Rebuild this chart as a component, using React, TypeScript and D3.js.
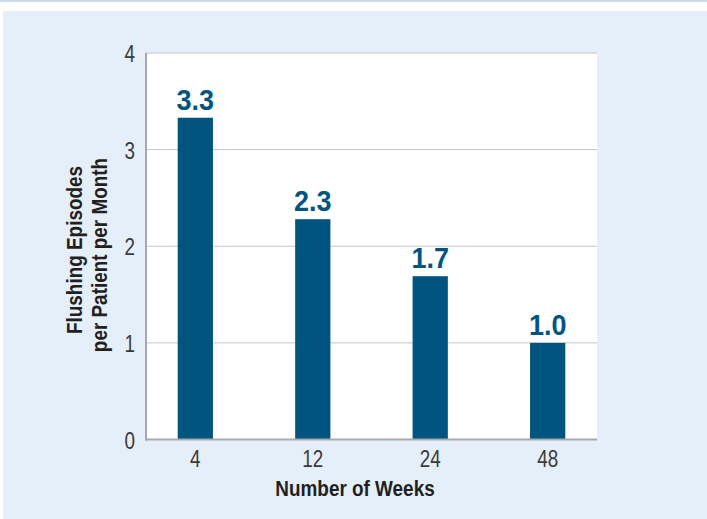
import React, { useEffect, useRef } from "react";
import * as d3 from "d3";

const weeks = ["4", "12", "24", "48"];
const episodes = [3.33, 2.28, 1.69, 1.0];
const valueLabels = ["3.3", "2.3", "1.7", "1.0"];
const yTicks = [0, 1, 2, 3, 4];

const FONT = "'Liberation Sans', Arial, sans-serif";

export default function App() {
  const ref = useRef<SVGSVGElement>(null);

  useEffect(() => {
    const svg = d3.select(ref.current);
    svg.selectAll("*").remove();

    const width = 707;
    const height = 519;
    const left = 146, right = 597, top = 53, bottom = 439.5;

    // page background
    svg.append("rect").attr("width", width).attr("height", height).attr("fill", "#ffffff");
    svg.append("rect").attr("x", 0).attr("y", 0).attr("width", width).attr("height", 2).attr("fill", "#c5dcf0");
    svg.append("rect").attr("x", 3).attr("y", 11).attr("width", width - 3).attr("height", height - 11).attr("fill", "#e5eff9");

    // plot area
    svg.append("rect")
      .attr("x", left).attr("y", top)
      .attr("width", right - left).attr("height", bottom - top)
      .attr("fill", "#ffffff");

    const x = d3.scaleBand()
      .domain(weeks)
      .range([left, right])
      .paddingInner(0.7)
      .paddingOuter(0.27);

    const y = d3.scaleLinear()
      .domain([0, 4])
      .range([bottom, top]);

    // condensed text: no narrow face installed, so squeeze horizontally
    function label(parent, tx, ty, rotate, sx, txt, size, weight, fill, anchor = "middle", baseline = "auto") {
      const g = parent.append("g")
        .attr("transform", `translate(${tx},${ty}) rotate(${rotate}) scale(${sx},1)`);
      return g.append("text")
        .attr("text-anchor", anchor)
        .attr("dominant-baseline", baseline)
        .style("font-family", FONT)
        .style("font-size", size + "px")
        .style("font-weight", weight)
        .attr("fill", fill)
        .text(txt);
    }

    // gridlines
    svg.append("g")
      .selectAll("line")
      .data(yTicks.filter((d) => d > 0))
      .enter()
      .append("line")
        .attr("x1", left).attr("x2", right)
        .attr("y1", (d) => y(d)).attr("y2", (d) => y(d))
        .attr("stroke", "#c4c4c4")
        .attr("stroke-width", 1);

    // y tick labels
    const yLab = svg.append("g");
    yTicks.forEach((d) => {
      label(yLab, left - 11, y(d) + 1, 0, 0.82, String(d), 23, "normal", "#3a3a3a", "end", "central");
    });

    // bars
    svg.append("g")
      .selectAll("rect")
      .data(episodes)
      .enter()
      .append("rect")
        .attr("x", (d, i) => x(weeks[i]))
        .attr("y", (d) => y(d))
        .attr("width", x.bandwidth())
        .attr("height", (d) => y(0) - y(d))
        .attr("fill", "#01547e");

    // value labels
    const vLab = svg.append("g");
    episodes.forEach((d, i) => {
      label(vLab, x(weeks[i]) + x.bandwidth() / 2, y(d) - 8, 0, 0.93, valueLabels[i], 29, "bold", "#01557f");
    });

    // axes lines
    svg.append("line")
      .attr("x1", left).attr("x2", left)
      .attr("y1", top).attr("y2", bottom + 1)
      .attr("stroke", "#a9a9a9").attr("stroke-width", 2);
    svg.append("line")
      .attr("x1", left - 1).attr("x2", right)
      .attr("y1", bottom).attr("y2", bottom)
      .attr("stroke", "#a9a9a9").attr("stroke-width", 2);

    // x tick labels
    const xLab = svg.append("g");
    weeks.forEach((d) => {
      label(xLab, x(d) + x.bandwidth() / 2, 467, 0, 0.82, d, 23, "normal", "#3a3a3a");
    });

    // axis titles
    label(svg, 355, 496, 0, 0.86, "Number of Weeks", 22, "bold", "#231f20");
    label(svg, 82, 250, -90, 0.86, "Flushing Episodes", 22, "bold", "#231f20");
    label(svg, 107, 255, -90, 0.86, "per Patient per Month", 22, "bold", "#231f20");
  }, []);

  return (
    <svg
      ref={ref}
      width={707}
      height={519}
      style={{ position: "absolute", left: 0, top: 0 }}
    ></svg>
  );
}
